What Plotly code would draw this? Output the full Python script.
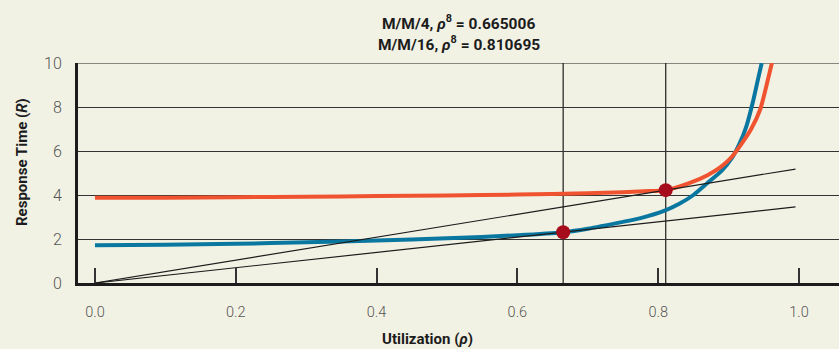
import plotly.graph_objects as go

# Utilization (rho) vs. response time R for the two queues
rho_mm4 = [0.0, 0.1, 0.2, 0.3, 0.4, 0.5, 0.6, 0.665006, 0.7, 0.75, 0.775, 0.81,
           0.83, 0.85, 0.87, 0.89, 0.905, 0.915, 0.925, 0.935, 0.942, 0.947]
r_mm4 = [1.72, 1.74, 1.78, 1.85, 1.93, 2.03, 2.17, 2.31, 2.47, 2.78, 2.95, 3.3,
         3.6, 4.0, 4.55, 5.1, 5.7, 6.3, 7.1, 8.3, 9.3, 10.0]

rho_mm16 = [0.0, 0.1, 0.2, 0.3, 0.4, 0.5, 0.6, 0.7, 0.75, 0.78, 0.810695, 0.845,
            0.87, 0.89, 0.905, 0.92, 0.932, 0.945, 0.954, 0.9615]
r_mm16 = [3.87, 3.88, 3.9, 3.92, 3.95, 3.98, 4.02, 4.08, 4.13, 4.17, 4.22, 4.55,
          4.9, 5.3, 5.75, 6.4, 7.0, 7.9, 9.0, 10.0]

# Knee points (rho*, R at rho*)
knee_rho = [0.665006, 0.810695]
knee_r = [2.31, 4.22]
knee_labels = ["M/M/4", "M/M/16"]

tangent_end = 0.995
x_ticks = [0.0, 0.2, 0.4, 0.6, 0.8, 1.0]
x_ticktext = ["0.0", "0.2", "0.4", "0.6", "0.8", "1.0"]
y_ticks = [0, 2, 4, 6, 8, 10]

BG = "#f2f2e4"
BLUE = "#0a77a0"
RED = "#f0532f"
DOT = "#a60c1b"
INK = "#1c1c1c"
FONT = "Roboto"

fig = go.Figure()

fig.add_trace(go.Scatter(x=rho_mm4, y=r_mm4, mode="lines",
                         line=dict(color=BLUE, width=4, shape="spline", smoothing=0.6),
                         hoverinfo="skip", showlegend=False))
fig.add_trace(go.Scatter(x=rho_mm16, y=r_mm16, mode="lines",
                         line=dict(color=RED, width=4, shape="spline", smoothing=0.6),
                         hoverinfo="skip", showlegend=False))

# Tangent lines from the origin through each knee
for kr, kv in zip(knee_rho, knee_r):
    slope = kv / kr
    fig.add_trace(go.Scatter(x=[0.0, tangent_end], y=[0.0, slope * tangent_end],
                             mode="lines", line=dict(color=INK, width=1.2),
                             hoverinfo="skip", showlegend=False))

fig.add_trace(go.Scatter(x=knee_rho, y=knee_r, mode="markers",
                         marker=dict(color=DOT, size=14),
                         hoverinfo="skip", showlegend=False))

# Vertical markers at the knees
for kr in knee_rho:
    fig.add_shape(type="line", xref="x", yref="paper", x0=kr, x1=kr, y0=0, y1=1,
                  line=dict(color=INK, width=1.2), layer="below")
# Top border line at R = 10
fig.add_shape(type="line", xref="paper", yref="y", x0=0, x1=1, y0=10, y1=10,
              line=dict(color=INK, width=1.2), layer="below")

title_lines = [f"{lab}, <i>ρ</i><sup>8</sup> = {kr:.6f}" for lab, kr in zip(knee_labels, knee_rho)]
for i, t in enumerate(title_lines):
    fig.add_annotation(text=f"<b>{t}</b>", xref="paper", yref="paper",
                       x=0.5, y=1 + (41 - 21.6 * i) / 220, xanchor="center", yanchor="middle",
                       showarrow=False, font=dict(family=FONT, size=15.5, color=INK))

fig.add_annotation(text="<b>Utilization (<i>ρ</i>)</b>", xref="paper", yref="paper",
                   x=(427 - 78) / 761, y=-56 / 220, xanchor="center", yanchor="middle",
                   showarrow=False, font=dict(family=FONT, size=15, color=INK))
fig.add_annotation(text="<b>Response Time (<i>R</i>)</b>", xref="paper", yref="paper",
                   x=-56 / 761, y=(283 - 162) / 220, xanchor="center", yanchor="middle",
                   textangle=-90, showarrow=False, font=dict(family=FONT, size=15, color=INK))

fig.update_layout(
    width=839, height=349,
    margin=dict(l=78, r=0, t=63, b=66),
    paper_bgcolor=BG, plot_bgcolor=BG,
    font=dict(family=FONT, size=14, color="#555555"),
    xaxis=dict(range=[-0.0241, 1.0568], tickvals=x_ticks, ticktext=x_ticktext,
               ticks="inside", ticklen=15, tickwidth=1.5, tickcolor="#333333",
               showgrid=False, zeroline=False, showline=True, linewidth=3, linecolor=INK,
               ticklabelstandoff=14, tickfont=dict(family=FONT, size=14.5, color="#555555", weight=300)),
    yaxis=dict(range=[0, 10], tickvals=y_ticks, ticks="", showgrid=True,
               gridcolor="#333333", gridwidth=1.1, zeroline=False,
               showline=True, linewidth=3, linecolor=INK, ticklabelstandoff=10,
               tickfont=dict(family=FONT, size=16, color="#555555", weight=300)),
)

fig.write_html("out.html")
